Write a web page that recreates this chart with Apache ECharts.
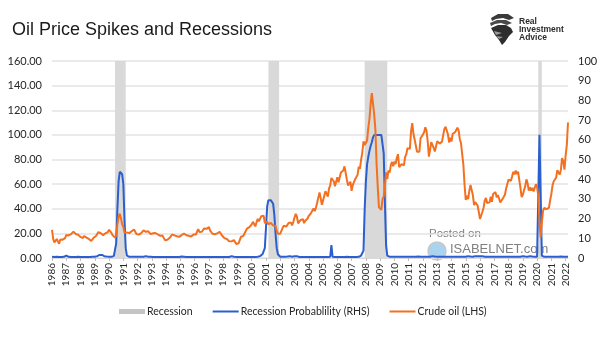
<!DOCTYPE html>
<html>
<head>
<meta charset="utf-8">
<script src="https://cdn.jsdelivr.net/npm/echarts@6/dist/echarts.min.js"></script>
<style>html,body{margin:0;padding:0;background:#fff;}#c{width:605px;height:341px;}</style>
</head>
<body>
<div id="c"></div>
<script>
// Monthly, Jan 1986 .. Mar 2022
const startYear = 1986, endYear = 2022, endMonth = 3;
const oilPrice = [
// 1986
22.9,15.5,12.6,12.8,15.4,13.4,11.6,15.1,14.9,14.9,15.2,16.1,
// 1987
18.7,17.8,18.3,18.7,19.4,20.1,21.3,20.3,19.5,19.9,18.9,17.3,
// 1988
17.1,16.8,16.2,17.9,17.4,16.5,15.5,15.5,14.5,13.8,14.1,16.4,
// 1989
18.0,17.9,19.5,21.1,20.1,20.1,19.8,18.6,19.6,20.1,19.9,21.1,
// 1990
22.9,22.1,20.4,18.4,18.2,16.7,18.5,27.3,33.5,36.0,32.3,27.3,
// 1991
25.2,20.5,19.9,20.8,21.2,20.2,21.4,21.7,21.9,23.2,22.5,19.5,
// 1992
18.8,19.0,18.9,20.2,21.0,22.4,21.8,21.3,21.9,21.7,20.3,19.4,
// 1993
19.0,20.1,20.3,20.3,20.0,19.1,17.9,18.0,17.5,18.2,16.6,14.5,
// 1994
15.0,14.8,14.7,16.4,17.9,19.1,19.7,18.4,17.5,17.7,18.1,17.2,
// 1995
18.0,18.6,18.5,19.9,19.7,18.5,17.3,18.0,18.2,17.4,18.0,19.0,
// 1996
18.9,19.1,21.3,23.5,21.2,20.4,21.3,21.9,24.0,24.9,23.7,25.2,
// 1997
25.1,22.2,21.0,19.7,20.8,19.3,19.7,20.0,19.8,21.3,20.2,18.3,
// 1998
16.7,16.1,15.1,15.4,14.9,13.7,14.2,13.5,15.0,14.5,13.0,11.4,
// 1999
12.5,12.0,14.7,17.3,17.7,17.9,20.1,21.3,23.8,22.7,25.0,26.1,
// 2000
27.3,29.4,29.8,25.7,28.8,31.8,29.7,31.3,33.9,33.1,34.4,28.4,
// 2001
29.6,29.6,27.3,27.5,28.6,27.6,26.4,27.4,26.2,22.2,19.6,19.4,
// 2002
19.7,20.7,24.5,26.2,27.0,25.5,27.0,28.4,29.7,28.8,26.4,29.5,
// 2003
33.0,35.8,33.5,28.2,28.1,30.7,30.8,31.6,28.3,30.3,31.1,32.1,
// 2004
34.3,34.7,36.7,36.8,40.3,38.0,40.8,44.9,45.9,53.3,48.5,43.2,
// 2005
46.8,48.2,54.2,53.0,49.8,56.4,59.0,65.0,65.6,62.3,58.3,59.4,
// 2006
65.5,61.6,62.7,69.4,70.8,71.0,74.4,73.0,63.8,58.9,59.1,62.0,
// 2007
54.5,59.3,60.4,64.0,63.5,67.5,74.1,72.4,79.9,85.8,94.8,91.7,
// 2008
93.0,95.4,105.5,112.6,125.4,133.9,133.4,116.7,104.1,76.6,57.3,41.1,
// 2009
41.7,39.1,47.9,49.7,59.0,69.6,64.2,71.1,69.4,75.7,78.0,74.5,
// 2010
78.3,76.4,81.2,84.3,73.7,75.3,76.3,76.6,75.2,81.9,84.3,89.2,
// 2011
89.2,88.6,102.9,109.5,100.9,96.3,97.3,86.3,85.5,86.3,97.2,98.6,
// 2012
100.3,102.2,106.2,103.3,94.7,82.3,87.9,94.1,94.5,89.5,86.5,87.9,
// 2013
94.8,95.3,92.9,92.0,94.5,95.8,104.7,106.6,106.3,100.5,93.9,97.6,
// 2014
94.6,100.8,100.8,102.1,102.2,105.8,103.6,96.5,93.2,84.4,75.8,59.3,
// 2015
47.2,50.6,47.8,54.5,59.3,59.8,50.9,42.9,45.5,46.2,42.4,37.2,
// 2016
31.7,30.3,37.6,40.8,46.7,48.8,44.7,44.7,45.2,49.8,45.7,52.0,
// 2017
52.5,53.5,49.3,51.1,48.5,45.2,46.6,48.0,49.8,51.6,56.6,57.9,
// 2018
63.7,62.2,62.7,66.3,70.0,67.9,71.0,68.1,70.2,70.8,57.0,49.5,
// 2019
51.4,55.0,58.2,63.9,60.8,54.7,57.4,54.8,57.0,54.0,57.0,59.9,
// 2020
57.5,50.5,29.2,16.5,28.6,38.3,40.7,42.3,39.6,39.4,40.9,47.0,
// 2021
52.0,59.0,62.3,61.7,65.2,71.4,72.5,67.7,71.5,81.2,78.7,71.7,
// 2022
83.2,91.6,110.0
];
const recessionProb = [
// 1986
1,1,0.8,0.8,1,1,0.8,0.8,0.8,0.8,1,1.5,
// 1987
2,1.5,1,0.8,0.8,0.8,0.8,0.8,0.8,1,1,0.8,
// 1988
0.8,0.8,0.8,0.8,0.8,0.8,0.8,0.8,0.8,1,1,1,
// 1989
1,1.2,1.5,2,2.5,3,2.5,2,1.5,1.5,1.2,1,
// 1990
1,1,1,1,1.5,2,12,40,62,70,70,68,
// 1991
60,30,8,2,1,1,1,1,1,1,1,1,
// 1992
1,1,1,1,1,1,1.2,1.5,1.2,1,1,1,
// 1993
1,0.8,0.8,0.8,0.8,0.8,0.8,0.8,0.8,0.8,0.8,0.8,
// 1994
0.8,0.8,0.8,0.8,0.8,0.8,0.8,0.8,0.8,0.8,0.8,0.8,
// 1995
1,1.2,1.2,1,0.8,0.8,0.8,0.8,0.8,0.8,0.8,0.8,
// 1996
0.8,0.8,0.8,0.8,0.8,0.8,0.8,0.8,0.8,0.8,0.8,0.8,
// 1997
0.8,0.8,0.8,0.8,0.8,0.8,0.8,0.8,0.8,0.8,0.8,0.8,
// 1998
0.8,0.8,0.8,0.8,0.8,0.8,1,1.5,1.2,1,0.8,0.8,
// 1999
0.8,0.8,0.8,0.8,0.8,0.8,0.8,0.8,0.8,0.8,0.8,0.8,
// 2000
0.8,0.8,0.8,0.8,0.8,1,1,1.5,2,3,4,8,
// 2001
25,42,47,47,47,46,44,35,20,8,3,1.5,
// 2002
1,1,1,1,1,1,1.2,1.5,1.5,1.2,1,1,
// 2003
1.5,2,1.5,1,0.8,0.8,0.8,0.8,0.8,0.8,0.8,0.8,
// 2004
0.8,0.8,0.8,0.8,0.8,0.8,0.8,0.8,0.8,0.8,0.8,0.8,
// 2005
0.8,0.8,0.8,0.8,0.8,0.8,1,10.5,1,0.8,0.8,0.8,
// 2006
0.8,0.8,0.8,0.8,0.8,0.8,0.8,0.8,1,1,0.8,0.8,
// 2007
0.8,0.8,0.8,0.8,0.8,0.8,1,1.5,2,3,6,40,
// 2008
62,76,82,87,91,94,98,100,100,100,100,100,
// 2009
100,100,100,85,45,10,2,1,1,1,1,1,
// 2010
1,1,1,1,1,1,1,1,1,1,1,1,
// 2011
1,1,1,1,1,1,1,1,1.2,1.2,1,1,
// 2012
1,1,1,1,1,1,1,1.2,1.5,1.5,1.2,1,
// 2013
1,1,1,1,1,1,1,1,1,1,1,1,
// 2014
1,1,1,1,1,1,1,1,1,1,1,1,
// 2015
1,1.2,1.5,1.5,1.2,1,1,1.2,1.5,2,1.5,1.2,
// 2016
1.5,2,1.5,1.2,1,1,1,1,1,1,1,1,
// 2017
1,1,1,1,1,1,1,1,1,1,1,1,
// 2018
1,1,1,1,1,1,1,1,1,1,1,1.2,
// 2019
1.5,1.5,1.2,1,1,1.2,1.5,1.5,1.2,1,1,1,
// 2020
1,2,100,100,2,1,1,1,1,1,1,1,
// 2021
1,1,1,1.5,1,1,1,1.5,1.2,1,1,1,
// 2022
1,1,1
];
const recessionStart = ['1990-06','2001-03','2007-12','2020-02'];
const recessionEnd   = ['1991-03','2001-12','2009-07','2020-05'];
const leftTicks  = {min:0, max:160, interval:20};
const rightTicks = {min:0, max:100, interval:10};
const legendNames = ['Recession','Recession Probablility (RHS)','Crude oil (LHS)'];

const months = [];
for (let y = startYear; y <= endYear; y++) {
  for (let m = 1; m <= 12; m++) {
    if (y === endYear && m > endMonth) break;
    months.push(y + '-' + (m < 10 ? '0' + m : '' + m));
  }
}

const FONT = 'Lato, "Open Sans", sans-serif';
const chart = echarts.init(document.getElementById('c'), null, {renderer: 'canvas'});
const yearTick = (i) => i % 12 === 0;

chart.setOption({
  animation: false,
  backgroundColor: '#ffffff',
  grid: {left: 52, right: 37, top: 61, bottom: 83, containLabel: false},
  legend: {
    left: 114, top: 301,
    itemGap: 20, itemWidth: 26, itemHeight: 6,
    textStyle: {fontFamily: FONT, fontSize: 10.5, color: '#262626', padding: [0, 0, 0, -3]},
    data: [
      {name: legendNames[0], icon: 'path://M0,0H26V5H0Z', itemStyle: {color: '#c4c4c4'}},
      {name: legendNames[1], icon: 'path://M0,0H26V2H0Z'},
      {name: legendNames[2], icon: 'path://M0,0H26V2H0Z'}
    ]
  },
  xAxis: {
    type: 'category', data: months, boundaryGap: false,
    axisLine: {show: true, lineStyle: {color: '#d9d9d9'}},
    axisTick: {show: true, interval: yearTick, length: 3, lineStyle: {color: '#bfbfbf'}},
    axisLabel: {
      interval: yearTick, rotate: 90, margin: 5,
      formatter: (v) => v.slice(0, 4),
      fontFamily: FONT, fontSize: 10, color: '#262626'
    },
    splitLine: {show: false}
  },
  yAxis: [
    {
      type: 'value', min: leftTicks.min, max: leftTicks.max, interval: leftTicks.interval,
      axisLine: {show: false}, axisTick: {show: false},
      axisLabel: {formatter: (v) => v.toFixed(2), fontFamily: FONT, fontSize: 11, color: '#262626', margin: 10},
      splitLine: {lineStyle: {color: '#e3e3e3', width: 1.5}}
    },
    {
      type: 'value', min: rightTicks.min, max: rightTicks.max, interval: rightTicks.interval,
      position: 'right',
      axisLine: {show: false}, axisTick: {show: false},
      axisLabel: {fontFamily: FONT, fontSize: 11, color: '#262626', margin: 10},
      splitLine: {show: false}
    }
  ],
  series: [
    {
      name: legendNames[0], type: 'line', data: months.map(() => null),
      itemStyle: {color: '#c4c4c4'}, lineStyle: {width: 0}, symbol: 'none',
      markArea: {
        silent: true,
        itemStyle: {color: '#d9d9d9'},
        data: recessionStart.map((s, i) => [{xAxis: s}, {xAxis: recessionEnd[i]}])
      }
    },
    {
      name: legendNames[1], type: 'line', yAxisIndex: 0, data: recessionProb,
      showSymbol: false, symbol: 'none',
      lineStyle: {color: '#2a5fd0', width: 2}, itemStyle: {color: '#2a5fd0'}
    },
    {
      name: legendNames[2], type: 'line', yAxisIndex: 0, data: oilPrice,
      showSymbol: false, symbol: 'none',
      lineStyle: {color: '#f37021', width: 2}, itemStyle: {color: '#f37021'}
    }
  ],
  graphic: [
    {type: 'text', left: 12, top: 21, style: {text: 'Oil Price Spikes and Recessions', font: '18px "Liberation Sans", Arial, sans-serif', fill: '#1a1a1a'}},
    // logo (stylised eagle)
    {type: 'polygon', shape: {points: [[491,18],[498,14],[508,14],[514,18],[509,20],[503,18],[496,19],[492,21]]}, style: {fill: '#3a3a3a'}},
    {type: 'polygon', shape: {points: [[490,23],[497,20],[506,20],[512,23],[507,25],[501,23],[495,24],[491,26]]}, style: {fill: '#4a4a4a'}},
    {type: 'polygon', shape: {points: [[491,28],[498,25],[506,25],[511,28],[513,32],[509,36],[505,42],[502,45],[499,40],[495,35]]}, style: {fill: '#2e2e2e'}},
    {type: 'polygon', shape: {points: [[494,31],[502,33],[496,35]]}, style: {fill: '#9a9a9a'}},
    {type: 'polygon', shape: {points: [[496,36],[503,37],[499,39]]}, style: {fill: '#9a9a9a'}},
    {type: 'text', left: 519, top: 17, style: {text: 'Real\nInvestment\nAdvice', font: 'bold 8.5px "Liberation Sans", Arial, sans-serif', fill: '#2b2b2b', lineHeight: 8}},
    // watermark
    {type: 'circle', shape: {cx: 437, cy: 251, r: 9}, style: {fill: '#a9d3ee', stroke: '#c8c8c8', lineWidth: 1.5}},
    {type: 'text', left: 429, top: 228, style: {text: 'Posted on', font: '11.5px "Liberation Sans", Arial, sans-serif', fill: '#808080'}},
    {type: 'text', left: 450, top: 243, style: {text: 'ISABELNET.com', font: '13px "Liberation Sans", Arial, sans-serif', fill: '#808080'}}
  ]
});
</script>
</body>
</html>
